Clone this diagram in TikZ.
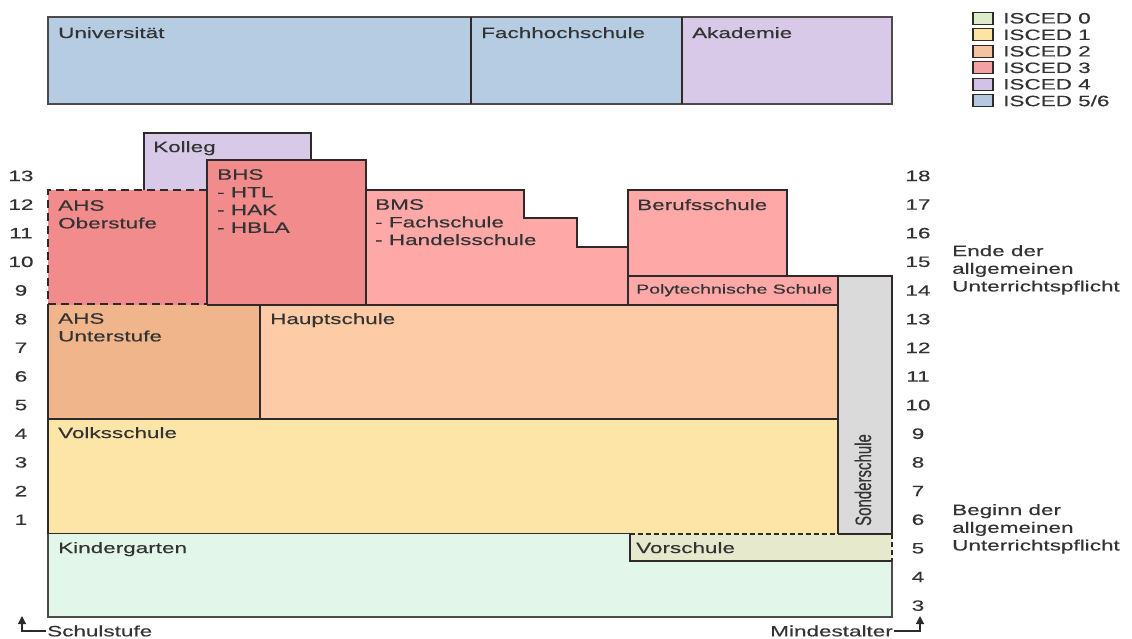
\documentclass[tikz,border=0pt]{standalone}
\usepackage{fontspec}
\setmainfont{Liberation Sans}[FakeStretch=1.5,FakeBold=0.35]
\newfontfamily\plainfont{Liberation Sans}[FakeBold=0.35]
\usetikzlibrary{arrows.meta}
\definecolor{bordercol}{HTML}{2E2A2A}
\definecolor{cfive}{HTML}{B6CCE3}
\definecolor{cfour}{HTML}{D8C9E9}
\definecolor{cthreeD}{HTML}{F28B8B}
\definecolor{cthreeL}{HTML}{FFA8A8}
\definecolor{ctwoD}{HTML}{F1B58C}
\definecolor{ctwoL}{HTML}{FDCBA6}
\definecolor{cone}{HTML}{FDE5A8}
\definecolor{czero}{HTML}{E2F6E9}
\definecolor{czeroB}{HTML}{E6E9CC}
\definecolor{cgray}{HTML}{DADADA}
\definecolor{lzero}{HTML}{DDEBC8}
\definecolor{lone}{HTML}{FDE4A0}
\definecolor{ltwo}{HTML}{F6C3A0}
\definecolor{lthree}{HTML}{F5A0A5}
\definecolor{lfour}{HTML}{D2C3E6}
\definecolor{lfive}{HTML}{B4C8E1}
\definecolor{txtcol}{HTML}{333333}
\begin{document}
\begin{tikzpicture}[x=1pt,y=-1pt,
  edge/.style={draw=bordercol,line width=1.3pt},
  ahsdash/.style={draw=bordercol,line width=1.3pt,dash pattern=on 8pt off 5pt},
  vordash/.style={draw=bordercol,line width=1.1pt,dash pattern=on 5pt off 3pt},
  lbl/.style={anchor=north west,inner sep=0pt,align=left,text=txtcol,
    font=\fontsize{15}{17.7}\selectfont},
  num/.style={anchor=center,inner sep=0pt,text=txtcol,font=\fontsize{15}{17.7}\selectfont},
  legbox/.style={draw=bordercol,line width=1.2pt},
  ax/.style={draw=bordercol,line width=1.2pt,-{Triangle[length=8pt,width=8pt]}}
]
\useasboundingbox[fill=white] (0,0) rectangle (1132,639);

% ---------- tertiary ----------
\fill[cfive] (48,17) rectangle (682,104);
\fill[cfour] (682,17) rectangle (892,104);
\draw[edge,draw=bordercol!85,line width=1.6pt] (48,17) rectangle (892,104);
\draw[edge] (471,17) -- (471,104);
\draw[edge] (682,17) -- (682,104);
\node[lbl] (uni) at (58,27) {Universität};
\node[lbl] (fh) at (481,27) {Fachhochschule};
\node[lbl] (akad) at (692,27) {Akademie};

% ---------- Kolleg ----------
\fill[cfour] (144,133) rectangle (311,190);
\draw[edge] (144,190) -- (144,133) -- (311,133) -- (311,160);
\node[lbl] (kolleg) at (153,141) {Kolleg};

% ---------- AHS Oberstufe ----------
\fill[cthreeD] (48,190) rectangle (207,305);
\draw[ahsdash] (207,190) -- (48,190) -- (48,305);
\draw[ahsdash] (48,304) -- (207,304);
\node[lbl] (ahso) at (58,200) {AHS\\Oberstufe};

% ---------- BHS ----------
\fill[cthreeD] (207,160) rectangle (366,305);
\draw[edge] (207,160) rectangle (366,305);
\node[lbl] (bhs) at (217,169) {BHS\\- HTL\\- HAK\\- HBLA};

% ---------- BMS ----------
\fill[cthreeL] (366,190) -- (524,190) -- (524,218) -- (577,218) -- (577,247) -- (628,247) -- (628,305) -- (366,305) -- cycle;
\draw[edge] (366,190) -- (524,190) -- (524,218) -- (577,218) -- (577,247) -- (628,247) -- (628,305) -- (366,305) -- cycle;
\node[lbl] (bms) at (375,199) {BMS\\- Fachschule\\- Handelsschule};

% ---------- Berufsschule / Poly ----------
\fill[cthreeL] (628,190) rectangle (787,276);
\draw[edge] (628,190) rectangle (787,276);
\node[lbl] (beruf) at (637,199) {Berufsschule};
\fill[cthreeL] (628,276) rectangle (838,305);
\draw[edge] (628,276) rectangle (838,305);
\node[lbl,font=\fontsize{13}{15}\selectfont] (poly) at (636,284) {Polytechnische Schule};

% ---------- Sonderschule ----------
\fill[cgray] (838,276) rectangle (892,534);
\draw[edge] (838,276) rectangle (892,534);
\node[inner sep=0pt,text=txtcol] (sonder) at (863,480)
  {\scalebox{1.5}[1]{\rotatebox{90}{\plainfont\fontsize{15}{17}\selectfont Sonderschule}}};

% ---------- Sekundarstufe I ----------
\fill[ctwoD] (48,305) rectangle (260,419);
\draw[edge] (48,305) -- (48,419) -- (260,419) -- (260,305) -- (207,305);
\node[lbl] (ahsu) at (58,313) {AHS\\Unterstufe};
\fill[ctwoL] (260,305) rectangle (838,419);
\draw[edge] (260,305) rectangle (838,419);
\node[lbl] (haupt) at (270,313) {Hauptschule};

% ---------- Volksschule ----------
\fill[cone] (48,419) rectangle (838,534);
\draw[edge] (630,534) -- (48,534) -- (48,419) -- (838,419) -- (838,534);
\node[lbl] (volks) at (58,427) {Volksschule};

% ---------- Kindergarten / Vorschule ----------
\fill[czero] (48,534) rectangle (892,617);
\fill[czeroB] (630,534) rectangle (892,561);
\draw[edge,draw=bordercol!85,line width=1.6pt] (48,534) -- (48,617) -- (892,617) -- (892,561);
\draw[edge] (630,534) -- (630,561) -- (892,561);
\draw[vordash] (630,534) -- (838,534);
\draw[vordash] (892,534) -- (892,561);
\draw[edge] (838,534) -- (892,534);
\node[lbl] (kiga) at (58,542) {Kindergarten};
\node[lbl] (vor) at (636,542) {Vorschule};

% ---------- axes numbers ----------
\foreach \r in {1,...,13} {
  \node[num] (l\r) at (21,{534-28.65*(\r-0.5)}) {\r};
}
\foreach \a in {3,...,18} {
  \node[num] (r\a) at (918,{534-28.65*(\a-5-0.5)}) {\a};
}

% ---------- right notes ----------
\node[lbl] (ende) at (952,245) {Ende der\\allgemeinen\\Unterrichtspflicht};
\node[lbl] (beginn) at (952,504) {Beginn der\\allgemeinen\\Unterrichtspflicht};

% ---------- bottom axis labels ----------
\node[anchor=west,inner sep=0pt,text=txtcol,font=\fontsize{15}{17}\selectfont] (schul) at (47,631) {Schulstufe};
\node[anchor=east,inner sep=0pt,text=txtcol,font=\fontsize{15}{17}\selectfont] (mind) at (893,631) {Mindestalter};
\coordinate (arrS) at (22,616);
\coordinate (arrM) at (920,616);
\draw[ax] ([xshift=-1pt]schul.west) -| (arrS);
\draw[ax] ([xshift=1pt]mind.east) -| (arrM);

% ---------- legend ----------
\foreach \c/\t [count=\i from 0] in {lzero/ISCED 0,lone/ISCED 1,ltwo/ISCED 2,lthree/ISCED 3,lfour/ISCED 4,lfive/ISCED 5\slash 6} {
  \draw[legbox,fill=\c] (973,{18.3+16.5*\i-6}) rectangle (993,{18.3+16.5*\i+6});
  \node[anchor=west,inner sep=0pt,text=txtcol,font=\fontsize{15}{17}\selectfont] (leg\i) at (1003,{18.3+16.5*\i}) {\t};
}
\end{tikzpicture}
\end{document}
